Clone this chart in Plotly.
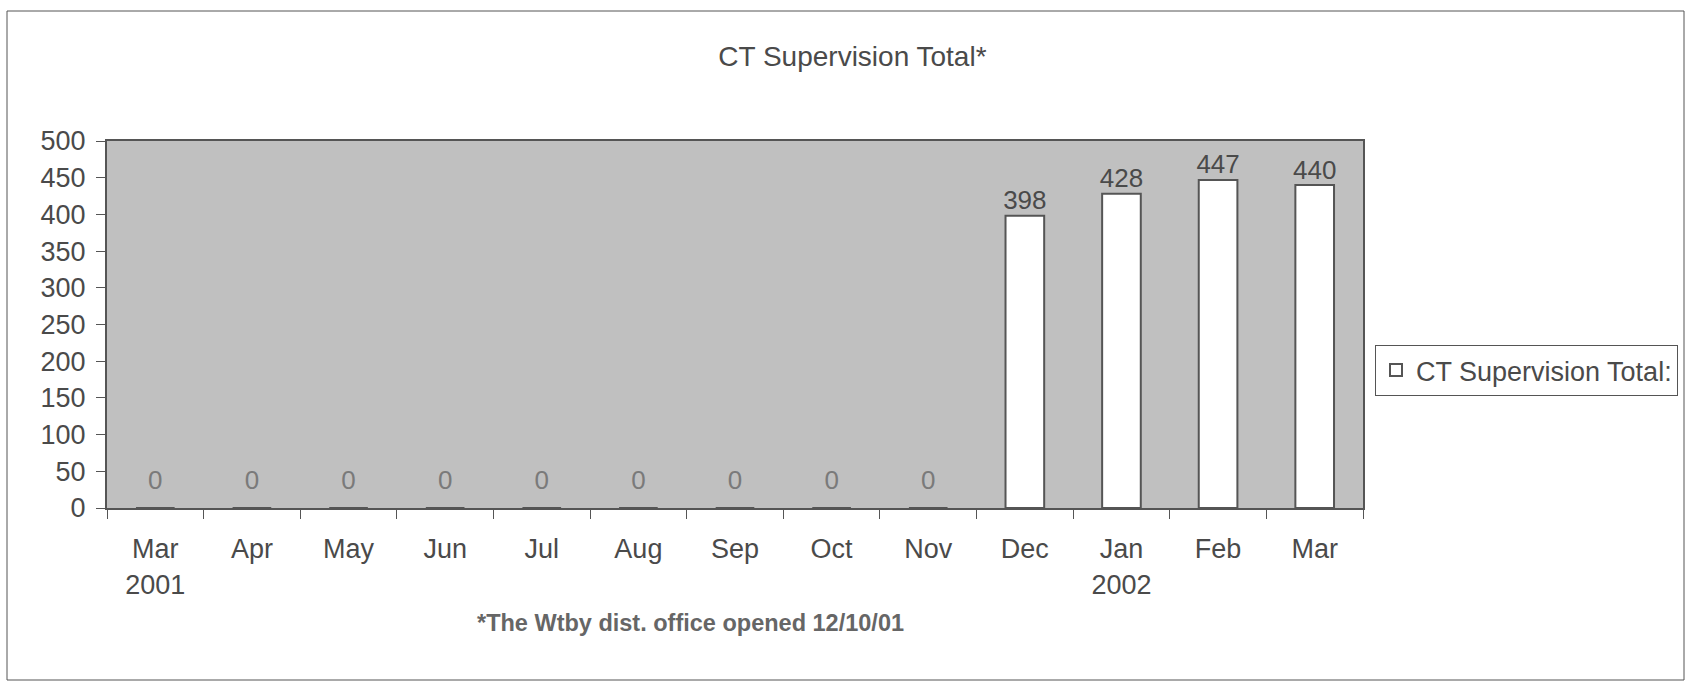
import plotly.graph_objects as go

months = ["Mar<br>2001", "Apr", "May", "Jun", "Jul", "Aug", "Sep", "Oct", "Nov",
          "Dec", "Jan<br>2002", "Feb", "Mar"]
totals = [0, 0, 0, 0, 0, 0, 0, 0, 0, 398, 428, 447, 440]
series_name = "CT Supervision Total:"
title_text = "CT Supervision Total*"
footnote = "*The Wtby dist. office opened 12/10/01"
y_ticks = list(range(0, 501, 50))

W, H = 1688, 686
L, R, T, B = 107, 1363, 141, 508  # plot area in pixels

def px_x(px):
    return (px - L) / (R - L)

def px_y(py):
    return (B - py) / (B - T)

FONT = "Liberation Sans, Arial, sans-serif"
TXT = "#4a4a4a"
EDGE = "#555555"

fig = go.Figure()
fig.add_trace(go.Bar(
    x=months, y=totals, name=series_name, width=0.4,
    marker=dict(color="white", line=dict(color=EDGE, width=2)),
    showlegend=True,
))
# value labels
label_offsets = [18 if v == 0 else 0 for v in totals]
label_colors = ["#7a7a7a" if v == 0 else "#4a4a4a" for v in totals]
fig.add_trace(go.Scatter(
    x=months, y=totals, mode="markers+text", text=[str(v) for v in totals],
    textposition="top center",
    textfont=dict(family=FONT, size=26, color=label_colors),
    marker=dict(size=label_offsets, color="rgba(0,0,0,0)", opacity=0,
                line=dict(width=0)),
    showlegend=False, hoverinfo="skip", cliponaxis=False,
))

fig.update_layout(
    width=W, height=H,
    margin=dict(l=L, r=W - R, t=T, b=H - B, autoexpand=False),
    paper_bgcolor="white", plot_bgcolor="#c0c0c0",
    font=dict(family=FONT, color=TXT, size=26),
    title=dict(text=title_text, x=0.505, xanchor="center", y=1 - 56 / H, yanchor="middle",
               yref="container", font=dict(family=FONT, size=28, color=TXT)),
    legend=dict(xref="container", yref="container", x=1375 / W, y=1 - 345 / H,
                xanchor="left", yanchor="top",
                bordercolor=EDGE, borderwidth=1, bgcolor="white",
                font=dict(family=FONT, size=27, color=TXT),
                itemsizing="constant"),
    bargap=0.6,
    showlegend=True,
)
fig.update_yaxes(range=[0, 500], tickvals=y_ticks, ticks="outside", ticklen=9,
                 tickcolor=EDGE, showgrid=False, zeroline=False,
                 showline=True, linecolor=EDGE, linewidth=2, mirror=True,
                 tickfont=dict(family=FONT, size=27, color=TXT),
                 ticklabelstandoff=5)
fig.update_xaxes(type="category", range=[-0.5, len(months) - 0.5],
                 ticks="outside", ticklen=9, tickcolor=EDGE,
                 tickson="boundaries", showgrid=False,
                 showline=True, linecolor=EDGE, linewidth=2, mirror=True,
                 tickfont=dict(family=FONT, size=27, color=TXT),
                 ticklabelstandoff=16)

# outer chart frame
fig.add_shape(type="rect", xref="paper", yref="paper",
              x0=px_x(7), x1=px_x(1684), y0=px_y(680), y1=px_y(11),
              line=dict(color=EDGE, width=1), fillcolor="rgba(0,0,0,0)", layer="below")

fig.add_annotation(text="<b>" + footnote + "</b>", xref="paper", yref="paper",
                   x=px_x(690), y=px_y(623), xanchor="center", yanchor="middle",
                   showarrow=False, font=dict(family=FONT, size=23.5, color="#666666"))

fig.write_html("out.html", config={"displayModeBar": False},
               post_script="document.body.style.margin='0';")
